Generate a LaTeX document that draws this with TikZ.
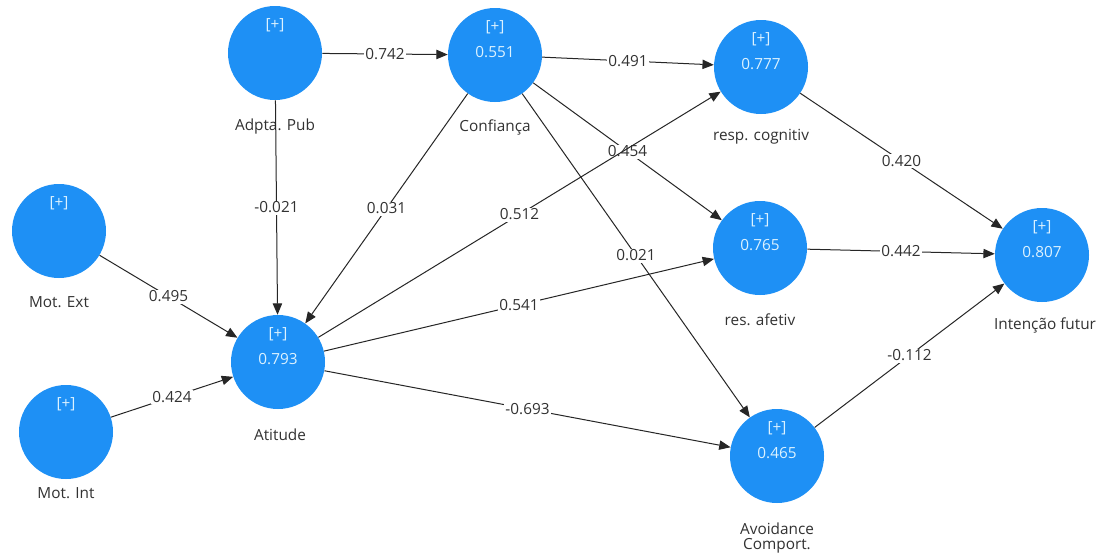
\documentclass[tikz,border=0pt]{standalone}
\usepackage{fontspec}
\setmainfont{Open Sans}
\usetikzlibrary{arrows.meta}
\definecolor{nodeblue}{RGB}{30,144,245}
\definecolor{nodetext}{RGB}{220,242,255}
\definecolor{labgray}{RGB}{50,50,50}
\begin{document}
\begin{tikzpicture}[x=0.75pt,y=-0.75pt,
  construct/.style={circle,fill=nodeblue,minimum size=70.5pt,inner sep=0pt},
  plus/.style={text=nodetext,font=\fontsize{11.5}{13}\selectfont,inner sep=0pt},
  lvname/.style={text=labgray,font=\fontsize{11.5}{13}\selectfont,align=center},
  coef/.style={fill=white,text=labgray,font=\fontsize{11.5}{13}\selectfont,inner sep=1pt},
  path/.style={draw=black!85,line width=0.75pt,-{Triangle[length=8.5pt,width=7pt]}}]
% Background
\useasboundingbox (0,0) rectangle (1112,557);
\fill[white] (0,0) rectangle (1112,557);
% Constructs
\node[construct,label={[plus,yshift=21pt]center:[+]}] (adpta) at (275,53) {};
\node[construct,label={[plus,yshift=21pt]center:[+]},label={[plus,yshift=2pt]center:0.551}] (conf) at (495,55) {};
\node[construct,label={[plus,yshift=21pt]center:[+]},label={[plus,yshift=2pt]center:0.777}] (cog) at (761,67) {};
\node[construct,label={[plus,yshift=21pt]center:[+]}] (mext) at (59,231) {};
\node[construct,label={[plus,yshift=21pt]center:[+]},label={[plus,yshift=2pt]center:0.765}] (afet) at (760,248) {};
\node[construct,label={[plus,yshift=21pt]center:[+]},label={[plus,yshift=2pt]center:0.807}] (int) at (1042,255) {};
\node[construct,label={[plus,yshift=21pt]center:[+]},label={[plus,yshift=2pt]center:0.793}] (atit) at (278,362) {};
\node[construct,label={[plus,yshift=21pt]center:[+]}] (mint) at (66,432) {};
\node[construct,label={[plus,yshift=21pt]center:[+]},label={[plus,yshift=2pt]center:0.465}] (avoid) at (777,456) {};
% Names
\node[lvname] (adptaN) at (275,127) {Adpta. Pub};
\node[lvname] (confN) at (495,127) {Confiança};
\node[lvname] (cogN) at (761,137) {resp. cognitiv};
\node[lvname] (mextN) at (59,302) {Mot. Ext};
\node[lvname] (afetN) at (760,320) {res. afetiv};
\node[lvname] (intN) at (1045,325) {Intenção futur};
\node[lvname] (atitN) at (280,435) {Atitude};
\node[lvname] (mintN) at (66,493) {Mot. Int};
\node[lvname] (avoidN) at (777,538) {Avoidance\\[-2pt]Comport.};
% Paths
\draw[path] (adpta) -- node[coef] {0.742} (conf);
\draw[path] (adpta) -- node[coef] {-0.021} (atit);
\draw[path] (conf) -- node[coef] {0.031} (atit);
\draw[path] (conf) -- node[coef] {0.491} (cog);
\draw[path] (conf) -- node[coef] {0.454} (afet);
\draw[path] (conf) -- node[coef] {0.021} (avoid);
\draw[path] (atit) -- node[coef] {0.512} (cog);
\draw[path] (atit) -- node[coef] {0.541} (afet);
\draw[path] (atit) -- node[coef] {-0.693} (avoid);
\draw[path] (mext) -- node[coef] {0.495} (atit);
\draw[path] (mint) -- node[coef] {0.424} (atit);
\draw[path] (cog) -- node[coef] {0.420} (int);
\draw[path] (afet) -- node[coef] {0.442} (int);
\draw[path] (avoid) -- node[coef] {-0.112} (int);
\end{tikzpicture}
\end{document}
